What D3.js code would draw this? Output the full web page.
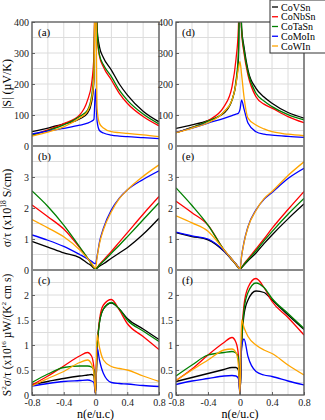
<!DOCTYPE html>
<html>
<head>
<meta charset="utf-8">
<script src="https://cdn.jsdelivr.net/npm/d3@7"></script>
<style>
body { margin: 0; background: #fff; }
svg text { font-family: "Liberation Serif", "Times New Roman", Times, serif !important; }
</style>
</head>
<body>
<div id="chart"></div>
<script>
// compounds and line colours
var compounds = ["CoVSn", "CoNbSn", "CoTaSn", "CoMoIn", "CoWIn"];
var colours = ["#000000", "#ff0000", "#008000", "#0000ff", "#ffa500"];

// doping level n (e/u.c), shared by all curves
var nVals = [-0.8, -0.6, -0.4, -0.2, -0.1, -0.05, -0.02, 0, 0.02, 0.05, 0.1, 0.2, 0.3, 0.4, 0.6, 0.8];

// |S| (uV/K) - panel (a) and (d), rows in compound order
var seebeckLeft = [
  [46, 58, 71, 87, 106, 140, 210, 600, 380, 320, 285, 245, 200, 165, 112, 78],
  [35, 52, 72, 100, 148, 200, 290, 600, 360, 290, 255, 213, 170, 138, 95, 65],
  [35, 50, 68, 95, 116, 160, 240, 600, 370, 294, 262, 224, 180, 148, 103, 71],
  [39, 48, 57, 67, 74, 80, 86, 184, 80, 50, 42, 35, 32, 30, 27, 24],
  [32, 45, 62, 90, 112, 150, 220, 600, 120, 73, 58, 46, 43, 41, 36, 30]
];
var seebeckRight = [
  [57, 68, 82, 106, 148, 203, 280, 600, 380, 320, 245, 186, 158, 138, 108, 90],
  [43, 60, 82, 127, 191, 280, 380, 600, 370, 300, 229, 159, 135, 122, 95, 75],
  [43, 60, 80, 110, 148, 210, 300, 600, 380, 310, 238, 170, 145, 127, 101, 84],
  [44, 58, 74, 89, 98, 103, 106, 118, 148, 120, 74, 46, 38, 35, 31, 28],
  [43, 58, 75, 110, 148, 200, 250, 272, 230, 159, 90, 68, 55, 46, 38, 33]
];

// sigma/tau (x10^18 S/cm) - panel (b) and (e)
var sigmaLeft = [
  [0.92, 0.74, 0.55, 0.4, 0.22, 0.13, 0.06, 0.03, 0.06, 0.12, 0.2, 0.38, 0.55, 0.72, 1.15, 1.67],
  [2.1, 1.72, 1.32, 0.72, 0.38, 0.2, 0.08, 0.03, 0.08, 0.18, 0.32, 0.6, 0.9, 1.2, 1.8, 2.37],
  [2.55, 2.05, 1.45, 0.75, 0.38, 0.2, 0.08, 0.03, 0.07, 0.16, 0.28, 0.54, 0.8, 1.07, 1.62, 2.17],
  [1.13, 0.96, 0.76, 0.5, 0.36, 0.28, 0.22, 0.2, 0.45, 0.9, 1.35, 1.94, 2.32, 2.58, 2.92, 3.2],
  [1.63, 1.36, 1.07, 0.65, 0.37, 0.22, 0.1, 0.06, 0.4, 0.85, 1.3, 1.88, 2.3, 2.58, 3.02, 3.39]
];
var sigmaRight = [
  [1.2, 1.08, 0.97, 0.6, 0.32, 0.17, 0.07, 0.02, 0.07, 0.16, 0.3, 0.55, 0.85, 1.13, 1.65, 2.13],
  [2.22, 1.85, 1.45, 0.65, 0.34, 0.19, 0.08, 0.02, 0.08, 0.2, 0.36, 0.68, 1.0, 1.34, 1.95, 2.53],
  [2.65, 2.08, 1.45, 0.65, 0.34, 0.19, 0.08, 0.02, 0.08, 0.18, 0.33, 0.62, 0.94, 1.24, 1.8, 2.31],
  [1.22, 1.1, 1.0, 0.62, 0.34, 0.2, 0.09, 0.03, 0.45, 0.9, 1.4, 1.94, 2.28, 2.5, 2.95, 3.28],
  [1.75, 1.52, 1.25, 0.65, 0.34, 0.19, 0.08, 0.02, 0.45, 0.88, 1.38, 1.92, 2.3, 2.53, 3.05, 3.49]
];

// S^2 sigma/tau (x10^16 uW/(K^2 cm s)) - panel (c) and (f)
var powerLeft = [
  [0.21, 0.27, 0.33, 0.38, 0.4, 0.41, 0.38, 0.02, 0.9, 1.45, 1.72, 1.84, 1.72, 1.53, 1.32, 1.11],
  [0.2, 0.38, 0.58, 0.78, 0.85, 0.78, 0.55, 0.02, 0.9, 1.5, 1.8, 1.91, 1.7, 1.43, 1.17, 0.91],
  [0.25, 0.42, 0.55, 0.58, 0.58, 0.56, 0.5, 0.02, 0.9, 1.45, 1.72, 1.85, 1.72, 1.5, 1.28, 1.07],
  [0.18, 0.23, 0.27, 0.29, 0.3, 0.28, 0.25, 0.02, 0.95, 0.7, 0.43, 0.25, 0.23, 0.22, 0.19, 0.17],
  [0.18, 0.33, 0.47, 0.65, 0.7, 0.62, 0.45, 0.02, 1.2, 0.95, 0.7, 0.57, 0.53, 0.5, 0.38, 0.27]
];
var powerRight = [
  [0.27, 0.35, 0.43, 0.51, 0.55, 0.55, 0.5, 0.02, 1.0, 1.6, 1.9, 2.08, 2.05, 1.9, 1.6, 1.31],
  [0.29, 0.52, 0.8, 1.05, 1.15, 1.05, 0.8, 0.02, 1.1, 1.8, 2.15, 2.33, 2.15, 1.87, 1.55, 1.2],
  [0.38, 0.6, 0.8, 0.85, 0.87, 0.84, 0.75, 0.02, 1.0, 1.7, 2.05, 2.24, 2.15, 1.93, 1.63, 1.33],
  [0.21, 0.28, 0.33, 0.38, 0.39, 0.38, 0.33, 0.02, 0.95, 1.12, 0.77, 0.47, 0.4, 0.37, 0.28, 0.2],
  [0.29, 0.5, 0.7, 0.9, 0.92, 0.85, 0.6, 0.02, 1.5, 1.35, 1.17, 1.0, 0.9, 0.83, 0.6, 0.4]
];

// axis ticks
var xTicks = [-0.8, -0.4, 0, 0.4, 0.8];
var seebeckTicks = [0, 100, 200, 300, 400];
var sigmaTicks = [0, 1, 2, 3];
var powerTicks = [0, 0.5, 1, 1.5, 2];

var serif = "'Liberation Serif', 'Times New Roman', Times, serif";

var svg = d3.select("#chart").append("svg")
  .attr("width", 325)
  .attr("height", 420)
  .attr("font-family", serif);

// columns and rows of the panel grid
var cols = [{ x0: 32, x1: 159 }, { x0: 176, x1: 304 }];
var rows = [
  { y0: 22, y1: 146, max: 400, ticks: seebeckTicks, grid: 50, data: [seebeckLeft, seebeckRight], tags: ["(a)", "(d)"] },
  { y0: 146, y1: 270, max: 4, ticks: sigmaTicks, grid: 0.5, data: [sigmaLeft, sigmaRight], tags: ["(b)", "(e)"] },
  { y0: 270, y1: 395, max: 2.5, ticks: powerTicks, grid: 0.25, data: [powerLeft, powerRight], tags: ["(c)", "(f)"] }
];

var defs = svg.append("defs");

rows.forEach(function (row, r) {
  cols.forEach(function (col, c) {
    var x = d3.scaleLinear().domain([-0.8, 0.8]).range([col.x0, col.x1]);
    var y = d3.scaleLinear().domain([0, row.max]).range([row.y1, row.y0]);
    var id = "clip" + r + c;

    defs.append("clipPath").attr("id", id)
      .append("rect")
      .attr("x", col.x0).attr("y", row.y0)
      .attr("width", col.x1 - col.x0).attr("height", row.y1 - row.y0);

    var g = svg.append("g");

    // grid
    g.selectAll(".vg").data(d3.range(-0.8, 0.81, 0.2)).enter().append("line")
      .attr("x1", function (d) { return x(d); }).attr("x2", function (d) { return x(d); })
      .attr("y1", row.y0).attr("y2", row.y1)
      .attr("stroke", "#dcdcdc").attr("stroke-width", 1);
    g.selectAll(".hg").data(d3.range(row.grid, row.max, row.grid)).enter().append("line")
      .attr("x1", col.x0).attr("x2", col.x1)
      .attr("y1", function (d) { return y(d); }).attr("y2", function (d) { return y(d); })
      .attr("stroke", "#dcdcdc").attr("stroke-width", 1);

    // curves
    var line = d3.line()
      .x(function (d, i) { return x(nVals[i]); })
      .y(function (d) { return y(d); })
      .curve(d3.curveMonotoneX);

    g.append("g").attr("clip-path", "url(#" + id + ")")
      .selectAll("path").data(row.data[c]).enter().append("path")
      .attr("d", line)
      .attr("fill", "none")
      .attr("stroke", function (d, i) { return colours[i]; })
      .attr("stroke-width", 1.3);

    // y axis
    var ya = g.append("g")
      .attr("transform", "translate(" + col.x0 + ",0)")
      .call(d3.axisLeft(y).tickValues(row.ticks).tickSize(-3).tickPadding(3)
        .tickFormat(function (d) { return String(d); }));
    ya.attr("font-family", serif).attr("font-size", 10);
    ya.select(".domain").remove();
    ya.selectAll("line").attr("stroke", "#666");
    ya.selectAll("text").attr("fill", "#222");

    // x axis on bottom row
    if (r === 2) {
      var xa = g.append("g")
        .attr("transform", "translate(0," + row.y1 + ")")
        .call(d3.axisBottom(x).tickValues(xTicks).tickSize(-3).tickPadding(4)
          .tickFormat(function (d) { return String(d); }));
      xa.attr("font-family", serif).attr("font-size", 10);
      xa.select(".domain").remove();
      xa.selectAll("line").attr("stroke", "#666");
      xa.selectAll("text").attr("fill", "#222");
    }

    // panel tag
    g.append("text")
      .attr("x", col.x0 + 6).attr("y", row.y0 + 14)
      .attr("font-size", 11)
      .text(row.tags[c]);
  });
});

// frames and panel separators
cols.forEach(function (col) {
  svg.append("rect")
    .attr("x", col.x0).attr("y", 22)
    .attr("width", col.x1 - col.x0).attr("height", 395 - 22)
    .attr("fill", "none").attr("stroke", "#555").attr("stroke-width", 1.3);
  [146, 270].forEach(function (yy) {
    svg.append("line")
      .attr("x1", col.x0).attr("x2", col.x1)
      .attr("y1", yy).attr("y2", yy)
      .attr("stroke", "#888").attr("stroke-width", 2);
  });
  svg.append("text")
    .attr("x", (col.x0 + col.x1) / 2).attr("y", 418)
    .attr("text-anchor", "middle").attr("font-size", 12)
    .text("n(e/u.c)");
});

// y axis titles, parts alternate between normal text and superscripts
function yTitle(cy, parts, size) {
  var t = svg.append("text")
    .attr("transform", "translate(11," + cy + ") rotate(-90)")
    .attr("text-anchor", "middle")
    .attr("font-size", size);
  var shift = 0;
  parts.forEach(function (p) {
    var span = t.append("tspan");
    if (p.sup) {
      span.attr("font-size", size * 0.62).attr("dy", -size * 0.4).text(p.sup);
      shift = size * 0.4;
    } else {
      span.attr("dy", shift).text(p.t);
      shift = 0;
    }
  });
}
yTitle(84, [{ t: "|S| (\u00b5V/K)" }], 12);
yTitle(208, [{ t: "\u03c3/\u03c4 (x10" }, { sup: "18" }, { t: " S/cm)" }], 12);
yTitle(335, [{ t: "S" }, { sup: "2" }, { t: "\u03c3/\u03c4 (x10" }, { sup: "16" }, { t: " \u00b5W/(K" }, { sup: "2" }, { t: " cm s)" }], 11.5);

// legend
var legend = svg.append("g");
legend.append("rect")
  .attr("x", 270).attr("y", 0).attr("width", 60).attr("height", 53)
  .attr("fill", "#fff").attr("stroke", "#333").attr("stroke-width", 1);
compounds.forEach(function (name, i) {
  var yy = 7 + i * 9.75;
  legend.append("line")
    .attr("x1", 272).attr("x2", 278).attr("y1", yy).attr("y2", yy)
    .attr("stroke", colours[i]).attr("stroke-width", 1.3);
  legend.append("text")
    .attr("x", 281).attr("y", yy + 3.5)
    .attr("font-size", 10)
    .text(name);
});
</script>
</body>
</html>
